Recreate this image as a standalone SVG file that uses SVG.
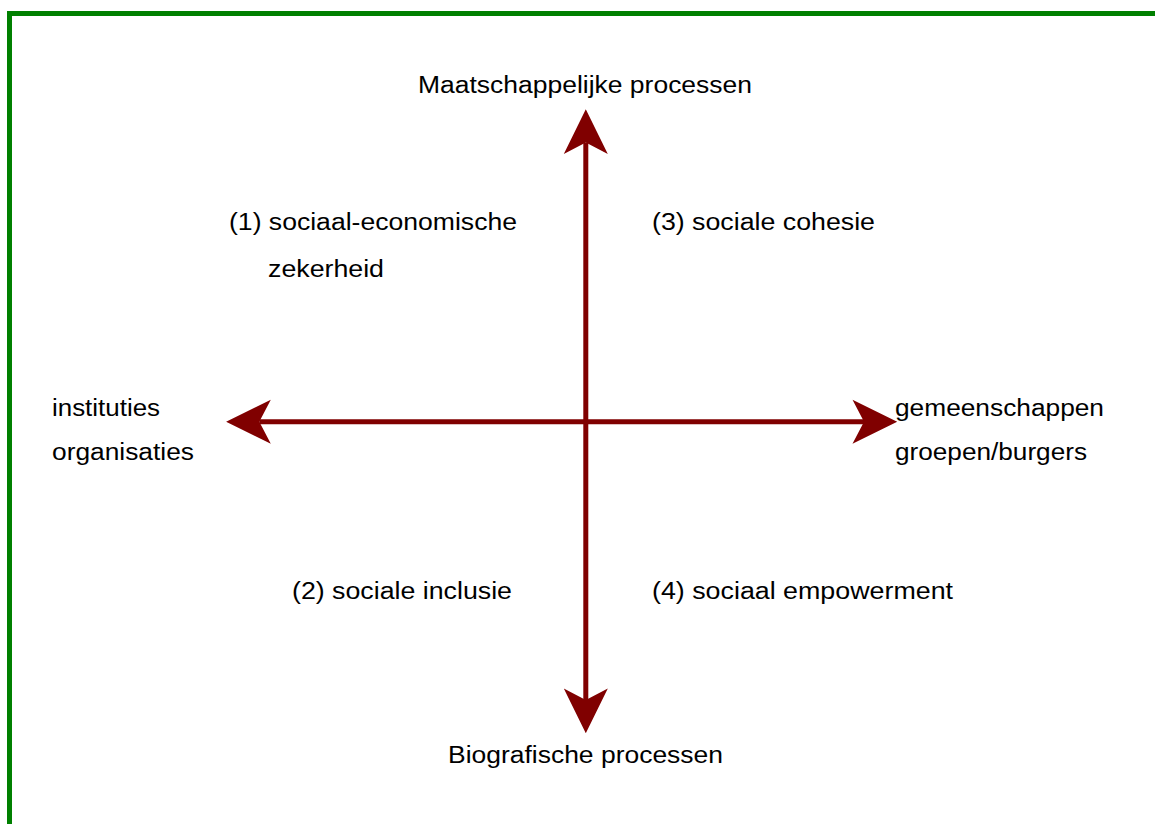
<svg xmlns="http://www.w3.org/2000/svg" width="1155" height="824" viewBox="0 0 1155 824">
  <defs>
    <style>
      .frame { fill: none; stroke: #008000; stroke-width: 5; }
      .axis { stroke: #800000; stroke-width: 5; fill: none; marker-start: url(#head); marker-end: url(#head); }
      .lbl { font-family: "Liberation Sans", Arial, sans-serif; font-size: 23px; fill: #000; }
    </style>
    <!-- filled arrowhead with a notched back; the line ends in the notch -->
    <marker id="head" viewBox="-2 -24 50 48" markerUnits="userSpaceOnUse" markerWidth="50" markerHeight="48" refX="11.5" refY="0" orient="auto-start-reverse" overflow="visible">
      <path d="M0,-22 L44.7,0 L0,22 L11.5,0 Z" fill="#800000"/>
    </marker>
  </defs>

  <rect width="1155" height="824" fill="#ffffff"/>
  <rect class="frame" x="9.5" y="13.5" width="1200" height="900"/>

  <g id="connectors">
    <line class="axis" x1="585.8" y1="142.5" x2="585.8" y2="700"/>
    <line class="axis" x1="259.3" y1="421.7" x2="864" y2="421.7"/>
  </g>

  <g id="node-top">
    <text class="lbl" x="418" y="93" textLength="334" lengthAdjust="spacingAndGlyphs">Maatschappelijke processen</text>
  </g>
  <g id="node-bottom">
    <text class="lbl" x="448" y="763" textLength="275" lengthAdjust="spacingAndGlyphs">Biografische processen</text>
  </g>
  <g id="node-left">
    <text class="lbl" x="52" y="416" textLength="108" lengthAdjust="spacingAndGlyphs">instituties</text>
    <text class="lbl" x="52" y="460" textLength="142" lengthAdjust="spacingAndGlyphs">organisaties</text>
  </g>
  <g id="node-right">
    <text class="lbl" x="895" y="416" textLength="209" lengthAdjust="spacingAndGlyphs">gemeenschappen</text>
    <text class="lbl" x="895" y="460" textLength="192" lengthAdjust="spacingAndGlyphs">groepen/burgers</text>
  </g>
  <g id="quadrant-1">
    <text class="lbl" x="229" y="230" textLength="288" lengthAdjust="spacingAndGlyphs">(1) sociaal-economische</text>
    <text class="lbl" x="268" y="277" textLength="116" lengthAdjust="spacingAndGlyphs">zekerheid</text>
  </g>
  <g id="quadrant-3">
    <text class="lbl" x="652" y="230" textLength="223" lengthAdjust="spacingAndGlyphs">(3) sociale cohesie</text>
  </g>
  <g id="quadrant-2">
    <text class="lbl" x="292" y="599" textLength="220" lengthAdjust="spacingAndGlyphs">(2) sociale inclusie</text>
  </g>
  <g id="quadrant-4">
    <text class="lbl" x="652" y="599" textLength="301" lengthAdjust="spacingAndGlyphs">(4) sociaal empowerment</text>
  </g>
</svg>
